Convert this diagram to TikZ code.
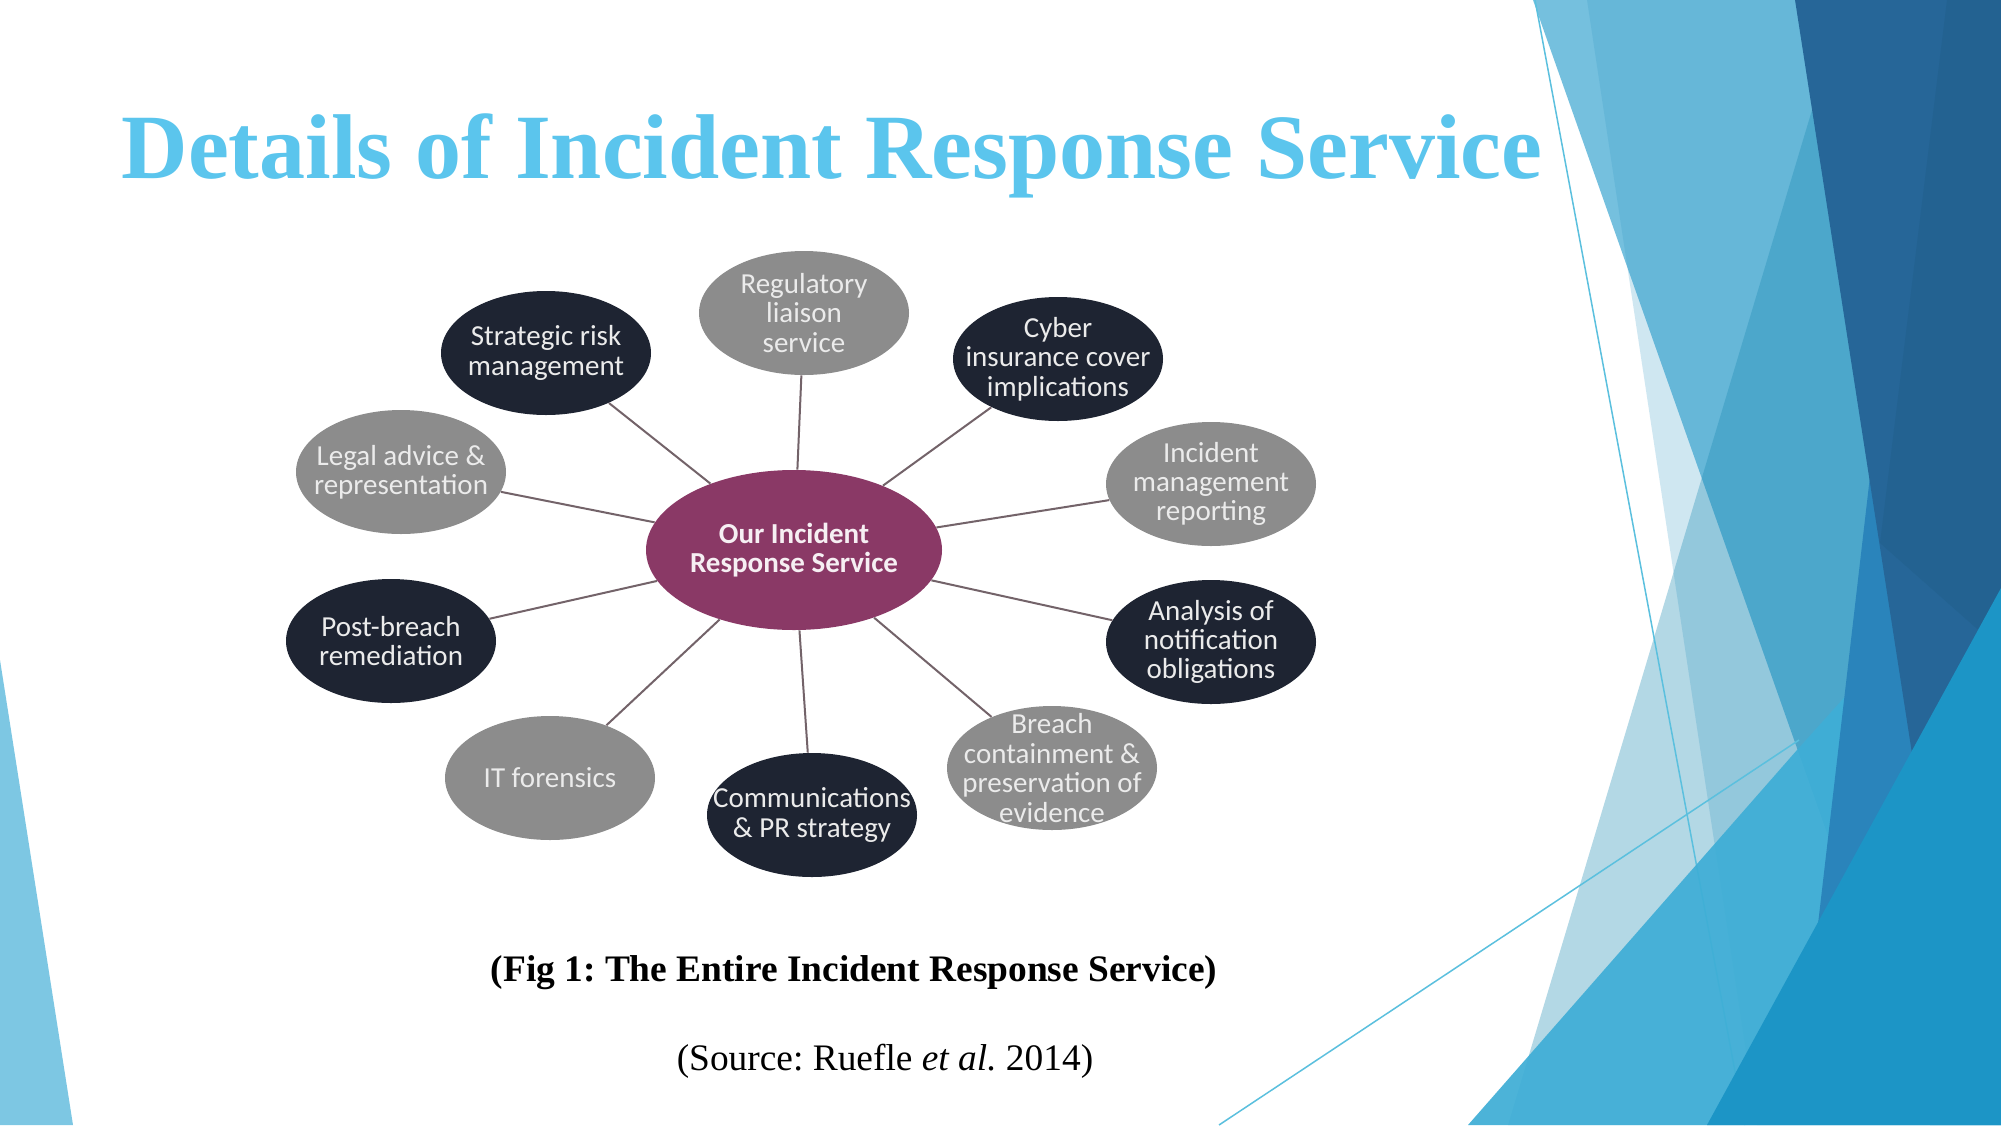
\documentclass[tikz,border=0pt]{standalone}
\usepackage{fontspec}
\setmainfont{Liberation Serif}
\newfontfamily\carlito{Carlito}
\usetikzlibrary{shapes.geometric}
\definecolor{titleblue}{RGB}{91,197,237}
\definecolor{nodedark}{RGB}{30,36,50}
\definecolor{nodegray}{RGB}{140,140,140}
\definecolor{nodeplum}{RGB}{138,57,102}
\definecolor{linkcol}{RGB}{115,99,105}
\definecolor{decoA}{RGB}{25,150,200}
\definecolor{decoB}{RGB}{58,156,200}
\definecolor{decoC}{RGB}{25,137,179}
\definecolor{decoBright}{RGB}{63,174,214}
\definecolor{decoMid}{RGB}{42,132,187}
\definecolor{decoDark}{RGB}{38,102,152}
\definecolor{decoDarker}{RGB}{35,98,145}
\definecolor{decoDeep}{RGB}{28,149,198}
\definecolor{decoLeft}{RGB}{125,199,227}
\definecolor{thinline}{RGB}{91,192,222}
\begin{document}
\frenchspacing
\begin{tikzpicture}[x=0.5pt,y=-0.5pt,
  bub/.style={ellipse, minimum width=105pt, minimum height=62pt, inner sep=0pt},
  darkbub/.style={bub, fill=nodedark},
  graybub/.style={bub, fill=nodegray},
  lbl/.style={align=center, text=white!92!black, inner sep=0pt,
    font=\carlito\fontsize{14.5}{14.7}\selectfont},
  boldlbl/.style={lbl, text=white!92!nodeplum,
    font=\carlito\bfseries\fontsize{14.5}{14.7}\selectfont},
  link/.style={draw=linkcol, line width=1pt}]
\useasboundingbox (0,0) rectangle (2001,1125);
\fill[white] (0,0) rectangle (2001,1125);

% ---- background facets ----
\fill[decoLeft] (0,660) -- (73,1125) -- (0,1125) -- cycle;
\fill[decoA, fill opacity=0.6] (1533,0) -- (2001,0) -- (2001,1125) -- (1930,1125) -- cycle;
\fill[decoB, fill opacity=0.24] (1587,0) -- (2001,0) -- (2001,1125) -- (1757,1125) -- cycle;
\fill[decoC, fill opacity=0.33] (1812,110) -- (1508,1125) -- (2001,1125) -- (2001,110) -- cycle;
\draw[thinline, line width=0.75pt] (1535,0) -- (1745,1125);
\draw[thinline, line width=0.75pt] (1219,1125) -- (1799,740);
\fill[decoBright, fill opacity=0.93] (1468,1125) -- (1797,750) -- (1860,680) -- (2001,600) -- (2001,1125) -- cycle;
\fill[decoMid] (1880,390) -- (1815,950) -- (2001,950) -- (2001,390) -- cycle;
\fill[decoDark] (1795,0) -- (2001,0) -- (2001,760) -- (1913,760) -- cycle;
\fill[decoDarker] (1947,0) -- (2001,0) -- (2001,650) -- (1880,543) -- cycle;
\fill[decoDeep] (1707,1125) -- (2001,588) -- (2001,1125) -- cycle;

% ---- title and captions ----
\node[anchor=base, inner sep=0pt, text=titleblue,
  font=\fontsize{46}{50}\selectfont\bfseries] (title) at (832,178)
  {Details of Incident Response Service};
\node[anchor=base, inner sep=0pt,
  font=\fontsize{18.7}{22}\selectfont\bfseries] (caption) at (854,981)
  {(Fig 1: The Entire Incident Response Service)};
\node[anchor=base, inner sep=0pt,
  font=\fontsize{18.7}{22}\selectfont] (source) at (885,1070)
  {(Source: Ruefle \textit{et al.} 2014)};

% ---- diagram ----
\node[bub, fill=nodeplum, minimum width=148pt, minimum height=80pt,
  label={[boldlbl]center:{Our Incident\\Response Service}}] (core) at (794,550) {};
\node[graybub, label={[lbl]center:{Regulatory\\liaison\\service}}] (reg) at (804,313) {};
\node[darkbub, label={[lbl]center:{Strategic risk\\management}}] (strat) at (546,353) {};
\node[darkbub, label={[lbl]center:{Cyber\\insurance cover\\implications}}] (cyber) at (1058,359) {};
\node[graybub, label={[lbl]center:{Legal advice \&\\representation}}] (legal) at (401,472) {};
\node[graybub, label={[lbl]center:{Incident\\management\\reporting}}] (incmgmt) at (1211,484) {};
\node[darkbub, label={[lbl]center:{Post-breach\\remediation}}] (post) at (391,641) {};
\node[darkbub, label={[lbl]center:{Analysis of\\notification\\obligations}}] (analysis) at (1211,642) {};
\node[graybub, label={[lbl]center:{IT forensics}}] (itf) at (550,778) {};
\node[darkbub, label={[lbl]center:{Communications\\\& PR strategy}}] (comms) at (812,815) {};
\node[graybub, label={[lbl]center:{Breach\\containment \&\\preservation of\\evidence}}] (breach) at (1052,768) {};

\foreach \n in {reg,strat,cyber,legal,incmgmt,post,analysis,itf,comms,breach}
  \draw[link] (core) -- (\n);
\end{tikzpicture}
\end{document}
